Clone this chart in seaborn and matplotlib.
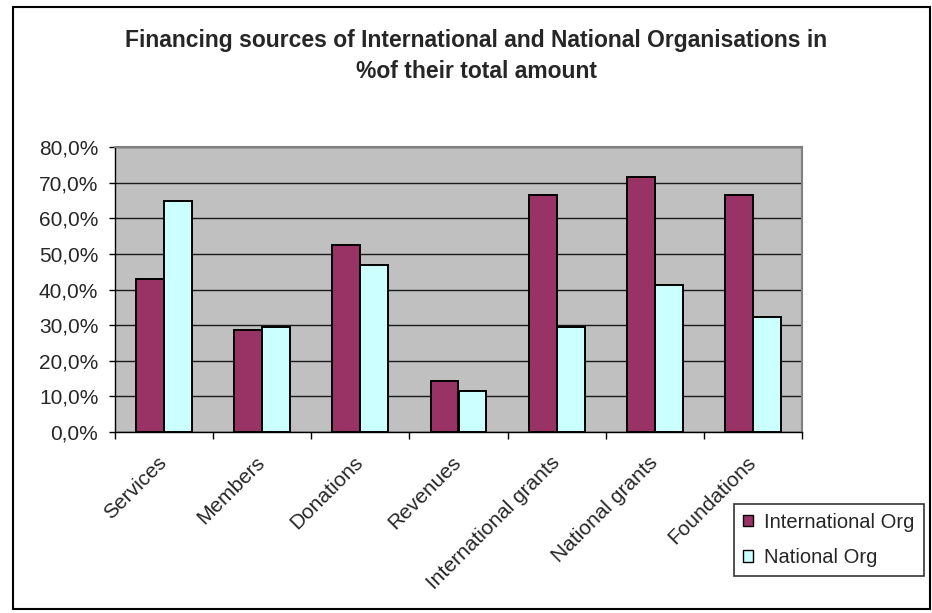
import matplotlib
matplotlib.use("Agg")
import matplotlib.pyplot as plt
import seaborn as sns
import pandas as pd
import numpy as np
from matplotlib.patches import Patch, Rectangle
from matplotlib.ticker import FuncFormatter, MultipleLocator

categories = ["Services", "Members", "Donations", "Revenues",
              "International grants", "National grants", "Foundations"]
international_org = [43.0, 28.5, 52.6, 14.4, 66.6, 71.7, 66.6]
national_org = [64.9, 29.6, 46.9, 11.6, 29.6, 41.3, 32.4]
series_names = ["International Org", "National Org"]
colors = ["#993366", "#CCFFFF"]
title_lines = ["Financing sources of International and National Organisations in",
               "%of their total amount"]

df = pd.DataFrame({
    "category": categories * 2,
    "value": international_org + national_org,
    "series": [series_names[0]] * len(categories) + [series_names[1]] * len(categories),
})

sns.set_theme(style="white")
plt.rcParams["font.family"] = ["Liberation Sans", "DejaVu Sans"]

W, H = 932, 613
fig = plt.figure(figsize=(W / 100, H / 100), dpi=100)
ax = fig.add_axes([115 / W, 1 - 432 / H, (802 - 115) / W, (432 - 147) / H])
ax.set_facecolor("#C0C0C0")

sns.barplot(data=df, x="category", y="value", hue="series", order=categories,
            hue_order=series_names, palette=colors, width=0.57,
            edgecolor="black", linewidth=1.4, ax=ax, legend=False, zorder=3,
            saturation=1)

ax.set_ylim(0, 80)
ax.set_xlim(-0.5, len(categories) - 0.5)
ax.yaxis.set_major_locator(MultipleLocator(10))
ax.yaxis.set_major_formatter(FuncFormatter(lambda v, p: f"{v:.1f}%".replace(".", ",")))
ax.grid(axis="y", color="#1a1a1a", linewidth=1.0, zorder=1)
ax.set_axisbelow(True)

ax.set_xlabel("")
ax.set_ylabel("")
ax.tick_params(axis="y", which="major", left=True, length=4, width=1, color="black",
               labelsize=15, pad=8, direction="out")
ax.set_xticks(range(len(categories)))
ax.set_xticklabels(categories, rotation=45, ha="right", va="center",
                   rotation_mode="anchor", fontsize=15)
ax.tick_params(axis="x", which="major", length=0, pad=20)
ax.set_xticks(np.arange(-0.5, len(categories), 1.0), minor=True)
ax.tick_params(axis="x", which="minor", bottom=True, length=5, width=1, color="black",
               direction="out")

for s in ["top", "right"]:
    ax.spines[s].set_color("#808080")
    ax.spines[s].set_linewidth(1.5)
for s in ["left", "bottom"]:
    ax.spines[s].set_color("black")
    ax.spines[s].set_linewidth(1.0)
    ax.spines[s].set_visible(True)

fig.text(476 / W, 1 - 41 / H, title_lines[0], ha="center", va="center",
         fontsize=16.5, fontweight="bold")
fig.text(476 / W, 1 - 72 / H, title_lines[1], ha="center", va="center",
         fontsize=16.5, fontweight="bold")

handles = [Patch(facecolor=c, edgecolor="black", linewidth=1.0) for c in colors]
leg = fig.legend(handles, series_names, loc="lower left",
                 bbox_to_anchor=(734 / W, 1 - 576 / H), fontsize=14.5,
                 frameon=True, fancybox=False, edgecolor="black",
                 handlelength=0.5, handleheight=0.5, handletextpad=0.55,
                 labelspacing=0.8, borderpad=0.45, borderaxespad=0)
leg.get_frame().set_linewidth(1.2)

fig.patches.append(Rectangle((13 / W, 1 - 609 / H), (930 - 13) / W, (609 - 7) / H,
                             transform=fig.transFigure, fill=False,
                             edgecolor="black", linewidth=1.5))

fig.savefig("out.png", dpi=100)
